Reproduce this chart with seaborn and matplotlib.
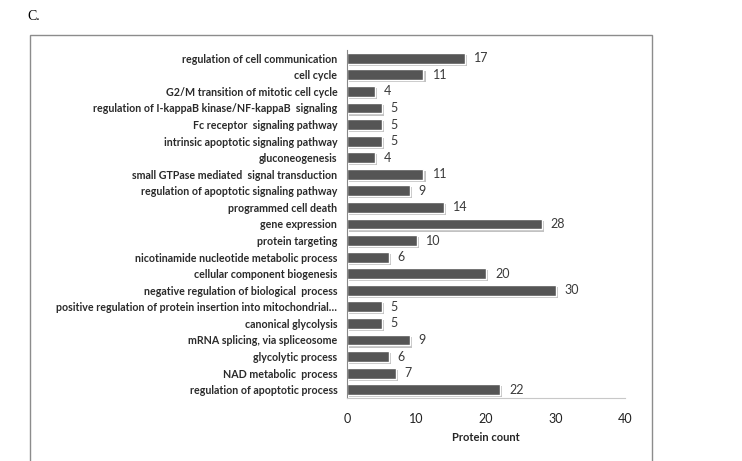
import seaborn as sns
import pandas as pd
import matplotlib.pyplot as plt
import matplotlib.patheffects as pe
from matplotlib.patches import Rectangle

terms = [
    "regulation of cell communication",
    "cell cycle",
    "G2/M transition of mitotic cell cycle",
    "regulation of I-kappaB kinase/NF-kappaB  signaling",
    "Fc receptor  signaling pathway",
    "intrinsic apoptotic signaling pathway",
    "gluconeogenesis",
    "small GTPase mediated  signal transduction",
    "regulation of apoptotic signaling pathway",
    "programmed cell death",
    "gene expression",
    "protein targeting",
    "nicotinamide nucleotide metabolic process",
    "cellular component biogenesis",
    "negative regulation of biological  process",
    "positive regulation of protein insertion into mitochondrial\u2026",
    "canonical glycolysis",
    "mRNA splicing, via spliceosome",
    "glycolytic process",
    "NAD metabolic  process",
    "regulation of apoptotic process",
]
counts = [17, 11, 4, 5, 5, 5, 4, 11, 9, 14, 28, 10, 6, 20, 30, 5, 5, 9, 6, 7, 22]
xticks = [0, 10, 20, 30, 40]

df = pd.DataFrame({"term": terms, "count": counts})

sns.set_theme(style="white")
plt.rcParams['font.family'] = ['Lato', 'DejaVu Sans']

fig = plt.figure(figsize=(7.42, 4.61), dpi=100)
fig.patches.append(Rectangle((30 / 742, -0.02), 622 / 742, 1 - 35 / 461 + 0.02,
                             transform=fig.transFigure, fill=False,
                             edgecolor="#8c8c8c", linewidth=1.0))
fig.text(27 / 742, 1 - 17 / 461, "C.", family="Liberation Serif", fontsize=10,
         va="center", ha="left", color="black")

ax = fig.add_axes([347 / 742, 1 - 398 / 461, (625 - 347) / 742, (398 - 50) / 461])
sns.barplot(data=df, x="count", y="term", color="#555555", saturation=1,
            width=0.66, ax=ax, orient="h")
for bar in ax.patches:
    bar.set_path_effects([pe.SimplePatchShadow(offset=(1.5, -1.5), shadow_rgbFace="#a8a8a8", alpha=0.7),
                          pe.Normal()])

for i, v in enumerate(counts):
    ax.text(v + 1.3, i, str(v), va="center", ha="left", fontsize=9, color="#3a3a3a")

ax.set_xlim(0, 40)
ax.set_xticks(xticks)
ax.set_xticklabels([str(t) for t in xticks], fontsize=9, color="#222222")
ax.tick_params(axis="x", length=0, pad=11)
ax.tick_params(axis="y", length=0, pad=7, labelsize=7.7)
for lab in ax.get_yticklabels():
    lab.set_fontweight("bold")
    lab.set_color("#2a2a2a")
ax.set_ylabel("")
ax.set_xlabel("Protein count", fontsize=8, fontweight="bold", labelpad=5)

for s in ["top", "right"]:
    ax.spines[s].set_visible(False)
ax.spines["left"].set_color("#888888")
ax.spines["bottom"].set_color("#c8c8c8")
ax.spines["left"].set_linewidth(0.8)
ax.spines["bottom"].set_linewidth(0.8)

fig.savefig("out.png", dpi=100)
